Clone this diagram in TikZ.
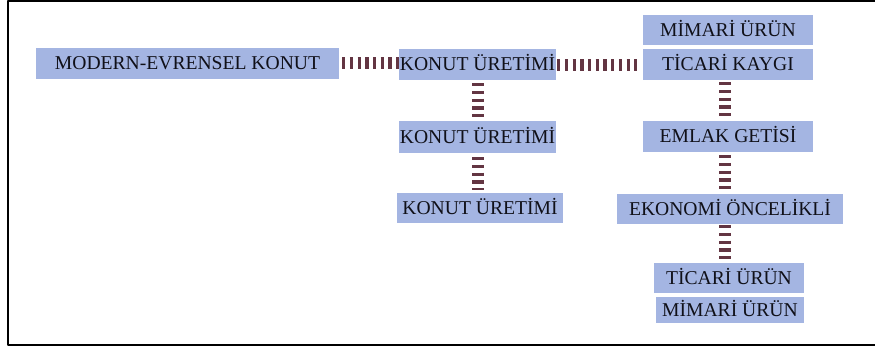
\documentclass[tikz,border=0pt]{standalone}
\usepackage{fontspec}
\setmainfont{Liberation Serif}
\definecolor{kutumavi}{HTML}{A4B5E2}
\definecolor{bagrengi}{HTML}{633542}
\definecolor{yazi}{HTML}{101018}
\begin{document}
\begin{tikzpicture}[x=1pt, y=-1pt, font=\fontsize{19.6}{22}\selectfont, line join=round,
		kutu/.style={fill=kutumavi, text=yazi, inner sep=0pt, minimum height=31pt, text height=13pt, text depth=1pt},
		bag/.style={draw=bagrengi, line width=12pt, dash pattern=on 3.2pt off 4.5pt}]
	\useasboundingbox (0,0) rectangle (875,349);
	\draw[line width=2pt] (875,1.2)--(8.3,1.2)--(8.3,345)--(875,345);
	\node[kutu, minimum width=303pt] (modern) at (187.5,63) {MODERN-EVRENSEL KONUT};
	\node[kutu, minimum width=157pt] (uretim1) at (477.5,64.5) {KONUT ÜRETİMİ};
	\node[kutu, minimum width=157pt, minimum height=32pt] (uretim2) at (477.5,137) {KONUT ÜRETİMİ};
	\node[kutu, minimum width=166pt, minimum height=30pt] (uretim3) at (480,208) {KONUT ÜRETİMİ};
	\node[kutu, minimum width=170pt, minimum height=30pt] (mimari1) at (728,30) {MİMARİ ÜRÜN};
	\node[kutu, minimum width=170pt] (kaygi) at (728,64.5) {TİCARİ KAYGI};
	\node[kutu, minimum width=170pt] (emlak) at (728,136.5) {EMLAK GETİSİ};
	\node[kutu, minimum width=226pt, minimum height=30pt] (ekonomi) at (730,209) {EKONOMİ ÖNCELİKLİ};
	\node[kutu, minimum width=150pt, minimum height=30pt] (ticari) at (729,278) {TİCARİ ÜRÜN};
	\node[kutu, minimum width=148pt, minimum height=26pt] (mimari2) at (730,310) {MİMARİ ÜRÜN};
	\draw[bag, shorten <=3pt] (modern.east)--(modern.east -| uretim1.west);
	\draw[bag, shorten <=1pt, shorten >=1pt] (uretim1.east)--(kaygi.west);
	\draw[bag, shorten <=3pt, shorten >=4pt] (uretim1.south)--(uretim2.north);
	\draw[bag, shorten <=4pt, shorten >=3pt] (uretim2.south)--(uretim2.south |- uretim3.north);
	\draw[bag, shorten <=2pt, shorten >=4pt] ([xshift=-3pt]kaygi.south)--([xshift=-3pt]kaygi.south |- emlak.north);
	\draw[bag, shorten <=3pt, shorten >=4pt] ([xshift=-3pt]emlak.south)--([xshift=-3pt]emlak.south |- ekonomi.north);
	\draw[bag, shorten <=1pt, shorten >=4pt] ([xshift=-5pt]ekonomi.south)--([xshift=-5pt]ekonomi.south |- ticari.north);
\end{tikzpicture}
\end{document}
